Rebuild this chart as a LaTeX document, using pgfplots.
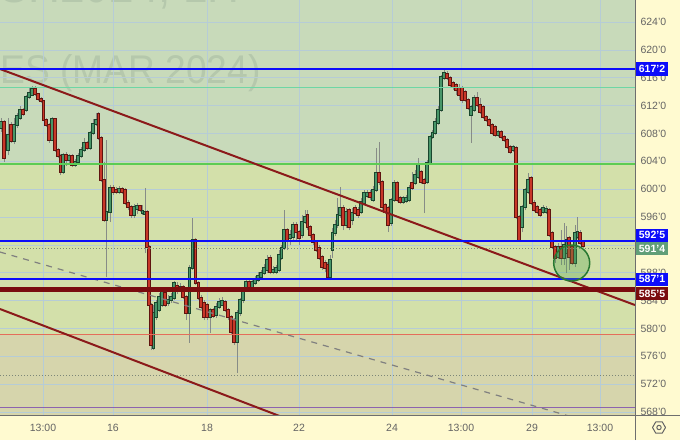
\documentclass[border=0pt]{standalone}
\usepackage{fontspec}
\setmainfont{Liberation Sans}
\usepackage{graphicx}
\usepackage{pgfplots}
\usepackage{pgfplotstable}
\pgfplotsset{compat=1.18}

\definecolor{bgtop}{RGB}{200,218,186}
\definecolor{bgmid}{RGB}{211,224,170}
\definecolor{bglow}{RGB}{214,213,172}
\definecolor{panel}{RGB}{255,250,208}
\definecolor{gridc}{RGB}{182,204,214}
\definecolor{wm}{RGB}{181,200,172}
\definecolor{ticktext}{RGB}{100,100,100}
\definecolor{bordc}{RGB}{110,110,110}
\definecolor{trend}{RGB}{139,26,26}
\definecolor{lvl}{RGB}{122,12,14}
\definecolor{blueline}{RGB}{12,12,250}
\definecolor{mint}{RGB}{110,214,165}
\definecolor{lgreen}{RGB}{92,204,84}
\definecolor{salmon}{RGB}{228,110,90}
\definecolor{purp}{RGB}{140,100,175}
\definecolor{dotc}{RGB}{125,135,120}
\definecolor{lastc}{RGB}{96,158,120}
\definecolor{upc}{RGB}{72,150,105}
\definecolor{upo}{RGB}{25,70,45}
\definecolor{dnc}{RGB}{200,55,40}
\definecolor{dno}{RGB}{95,20,15}
\definecolor{wickc}{RGB}{135,140,135}
\definecolor{circf}{RGB}{76,160,80}
\definecolor{circd}{RGB}{40,120,50}

% hourly candles, rising ones
\pgfplotstableread{
x o h l c
1 608.78 610.21 608.20 609.64
8 605.62 610.21 604.90 607.77
14 606.91 610.21 606.48 609.21
17 609.21 610.93 608.78 610.50
20 610.21 611.94 609.93 611.36
26 611.36 613.52 611.08 613.23
29 613.23 614.52 612.94 613.81
32 613.52 614.81 613.37 614.38
52 607.06 610.36 606.91 610.07
63 602.46 605.19 602.17 604.90
69 604.18 605.05 603.75 604.76
75 603.47 604.33 603.18 603.90
78 603.90 605.19 603.61 604.76
81 604.76 606.05 604.47 605.62
84 605.62 607.34 605.33 606.63
90 605.91 608.35 605.62 608.06
93 608.06 610.07 607.77 609.35
96 609.35 610.93 609.07 609.93
106.5 595.57 607.06 587.38 596.72
110 596.72 600.59 595.28 600.16
119 599.59 600.45 599.30 600.02
134 596.29 597.87 595.85 597.43
137 597.15 598.01 596.43 597.58
142.5 596.57 597.72 596.29 596.86
145 596.43 600.16 590.83 596.72
153.5 577.19 583.36 576.90 582.21
156 581.64 584.08 581.21 583.65
159 582.64 585.09 582.36 584.51
162 583.36 585.52 583.07 585.23
168 583.65 584.80 583.22 584.08
171 584.08 585.09 583.65 584.51
174 584.37 586.81 584.08 586.52
180 585.52 586.52 585.23 585.95
189.5 582.21 589.11 577.91 588.68
192.5 588.68 595.85 588.39 592.70
210 581.64 582.93 579.34 582.64
216 581.93 583.65 581.49 583.07
219 583.07 584.37 582.79 583.79
222 583.36 584.51 583.22 583.94
237 578.05 582.64 573.60 582.21
240 582.21 584.37 581.78 584.08
243 584.08 585.95 583.65 585.52
246 585.52 587.10 585.23 586.67
252 585.95 587.24 585.66 586.67
255 586.52 587.53 586.23 586.95
258 586.95 588.10 586.67 587.53
261 587.38 588.39 587.10 587.96
264 587.96 589.25 587.67 588.68
267 588.39 590.54 587.96 589.82
273 588.10 588.96 587.81 588.39
276 588.10 589.11 587.81 588.68
279 588.39 591.26 588.10 590.54
281.5 590.11 591.98 589.82 591.55
284 591.55 597.00 591.26 594.13
290 592.98 594.13 591.98 593.41
293 593.13 595.28 592.70 594.85
302 593.41 596.29 592.98 595.28
305 595.28 597.00 594.99 596.00
330 587.38 590.54 586.95 589.82
332.5 591.26 594.42 590.11 593.70
335 593.70 595.57 593.27 594.85
337.5 594.85 598.73 594.42 596.29
340 596.29 600.31 595.85 597.29
346 594.85 597.29 594.42 596.72
352 595.57 597.29 594.85 596.57
361 596.72 598.73 596.43 598.15
364 598.01 599.88 597.72 599.45
367 599.01 599.88 598.73 599.45
373 598.44 600.45 598.15 599.88
376 599.88 605.91 599.59 602.32
391 595.14 598.73 594.71 598.44
394 598.44 601.31 598.15 600.88
403 598.15 599.01 597.87 598.73
406 598.30 599.16 598.01 598.73
409 598.44 600.59 598.15 600.16
415 600.88 602.75 600.59 602.03
418 601.74 604.47 601.46 603.47
427 601.02 604.18 600.74 603.75
430 603.75 607.77 603.47 607.49
432.5 607.49 608.49 607.20 608.06
435 608.06 610.21 607.77 609.64
438 609.50 611.94 609.21 611.36
441 611.36 616.39 611.08 616.10
444 615.96 617.11 615.67 616.68
471 610.65 612.08 606.63 611.79
474 611.36 613.52 611.08 613.09
498 607.77 608.49 607.49 608.20
513 605.62 606.34 605.33 606.05
522 594.56 597.72 593.84 597.43
525 597.43 600.16 597.00 599.88
528 599.59 602.32 599.30 601.31
543 596.72 597.72 596.43 597.29
546 596.72 597.58 596.43 597.15
558 590.25 592.27 589.97 591.69
564 590.11 595.14 589.11 591.98
566.5 590.83 594.71 587.96 592.70
575 589.39 594.85 588.82 593.70
577.5 593.13 596.00 592.84 593.84
}\upc

% hourly candles, falling ones
\pgfplotstableread{
x o h l c
4 609.64 609.93 603.90 604.47
11 609.21 609.64 606.63 606.91
23 611.36 611.65 610.50 610.79
35 614.38 614.81 613.37 613.66
38 613.66 613.81 612.66 612.94
41 612.94 613.23 612.37 612.66
43.5 612.66 612.80 609.78 609.93
46 609.93 610.21 608.92 609.21
49 609.21 609.50 606.63 607.06
55 610.07 610.21 605.33 605.62
58 605.62 605.91 604.47 604.76
60.5 604.76 605.05 602.03 602.46
66 604.90 605.33 603.32 604.18
72 604.76 605.05 603.18 603.47
87 606.63 606.91 605.62 605.91
98.5 610.79 611.08 607.06 607.34
101 607.34 607.63 601.02 601.31
104 601.31 603.90 595.28 595.57
113 600.16 600.59 599.16 599.59
116 599.88 600.31 599.30 599.59
122 600.02 600.31 599.30 599.59
125 599.88 600.16 597.72 598.01
128 598.01 598.44 597.00 597.43
131 597.43 597.72 595.85 596.29
140 597.58 597.72 596.72 597.00
147 596.72 597.00 591.26 591.69
149 591.69 591.98 583.07 583.36
151 583.36 583.65 576.90 577.62
165 585.09 585.37 583.07 583.36
177 586.09 586.67 584.94 585.37
183 585.95 586.23 584.22 584.51
186 584.51 584.80 581.21 582.21
195.5 592.70 592.98 586.23 586.52
198.5 586.52 586.81 584.08 584.37
201 584.37 584.80 582.79 583.07
204 583.65 584.08 581.21 581.64
207 583.36 583.65 581.21 581.64
213 582.64 582.93 581.49 581.78
225 583.79 584.08 582.36 582.64
228 582.64 582.93 581.21 581.64
231 581.64 581.93 579.05 579.48
234 581.21 581.49 577.62 578.05
249 586.67 587.10 585.52 585.95
270 590.11 590.54 587.81 588.10
287 594.13 594.42 591.26 592.70
296 594.85 595.28 592.70 593.84
299 593.84 594.13 591.98 592.98
307.5 596.29 597.00 594.13 594.56
310 594.56 594.85 592.98 593.41
313 593.41 593.70 591.98 592.41
316 592.41 592.70 590.97 591.26
319 591.55 591.98 589.82 590.11
322 590.25 590.54 588.39 588.82
325 589.39 589.82 588.10 588.68
327.5 589.11 589.54 587.10 587.38
343 597.29 597.72 594.13 594.85
349 597.00 597.29 594.13 594.56
355 597.29 597.72 596.29 596.57
358 597.00 597.43 595.85 596.29
370 599.45 599.88 598.44 598.87
379 602.32 606.77 600.59 601.02
382 601.02 601.31 597.00 597.43
385 597.72 598.01 596.43 596.72
388 597.29 597.58 593.84 594.85
397 600.88 601.17 598.15 598.44
400 598.73 599.01 597.87 598.15
412 600.88 602.46 599.88 600.16
421 602.46 602.75 600.74 601.02
424 601.31 601.60 596.57 600.88
447 616.53 616.96 615.67 615.96
450 615.96 616.25 614.67 614.95
453 615.24 615.53 614.24 614.67
456 614.95 615.24 613.52 614.24
459 614.52 615.10 612.80 613.52
462 614.52 614.81 612.37 612.80
465 613.95 614.24 612.51 612.80
468 612.80 613.09 611.36 611.65
477 613.09 613.95 611.79 612.08
480 612.08 613.09 610.79 611.08
483 611.79 612.08 610.07 610.36
486 610.36 610.65 609.64 609.93
489 609.93 610.21 608.92 609.21
492 609.21 609.50 607.77 608.06
495 608.92 609.21 607.49 607.77
501 608.20 608.49 607.20 607.49
504 607.49 607.77 606.77 607.06
507 607.06 607.34 605.76 606.05
510 606.05 606.34 605.05 605.33
516 605.91 606.19 595.71 596.00
519 596.00 596.29 592.41 592.70
531 601.60 601.89 597.72 598.01
534 598.01 598.44 596.72 597.00
537 597.43 597.72 596.43 596.72
540 597.00 597.29 596.00 596.29
549 597.00 597.29 593.13 593.41
552 593.70 593.99 591.40 591.69
555 591.69 591.98 589.39 590.11
561 591.69 594.13 589.11 590.11
569 592.98 593.27 588.39 590.25
572 591.69 591.98 589.11 589.39
580 593.70 594.13 591.98 592.27
583 592.41 592.70 591.55 591.84
}\dnc

\begin{document}
\begin{tikzpicture}
\begin{scope}
\clip (0pt,-25pt) rectangle (680pt,415pt);
% panels and zones
\fill[panel] (0pt,-25pt) rectangle (680pt,415pt);
\fill[bglow] (0pt,0pt) rectangle (635pt,80.3pt);
\fill[bgmid] (0pt,80.3pt) rectangle (635pt,251.3pt);
\fill[bgtop] (0pt,251.3pt) rectangle (635pt,415pt);
% watermark
\node[overlay, anchor=base east, text=wm, inner sep=0pt, font=\fontsize{40}{40}\selectfont]
  at (261pt,332pt) {\scalebox{0.93}[1]{SOYBEAN FUTURES (MAR 2024)}};
\node[overlay, anchor=base east, text=wm, inner sep=0pt, font=\fontsize{52}{52}\selectfont]
  at (240pt,412pt) {\scalebox{0.85}[1]{ZSH2024, 1H}};

\begin{axis}[
    at={(0pt,0pt)}, anchor=south west,
    width=635pt, height=415pt, scale only axis,
    xmin=0, xmax=635, ymin=567.57, ymax=627.16,
    axis line style={draw=none},
    major tick length=0pt,
    xtick={43,113,207,299,392,461,532,600},
    xticklabels={13:00,16,18,22,24,13:00,29,13:00},
    ytick={568,572,...,624},
    yticklabels={568'0,572'0,576'0,580'0,584'0,588'0,592'0,596'0,600'0,604'0,608'0,612'0,616'0,620'0,624'0},
    yticklabel pos=right,
    grid=major,
    major grid style={draw=gridc, line width=0.7pt},
    tick label style={font=\fontsize{10.5}{12}\selectfont, text=ticktext},
    xticklabel style={yshift=-6pt},
    yticklabel style={anchor=west, xshift=2pt},
]
% wicks
\addplot[draw=none, mark=none, forget plot,
  error bars/.cd, y dir=plus, y explicit, error mark=none,
  error bar style={draw=wickc, line width=1pt}]
  table[x=x, y=l, y error plus expr=\thisrow{h}-\thisrow{l}] {\upc};
\addplot[draw=none, mark=none, forget plot,
  error bars/.cd, y dir=plus, y explicit, error mark=none,
  error bar style={draw=wickc, line width=1pt}]
  table[x=x, y=l, y error plus expr=\thisrow{h}-\thisrow{l}] {\dnc};
% bodies
\addplot[draw=none, mark=none, forget plot,
  error bars/.cd, y dir=plus, y explicit, error mark=none,
  error bar style={draw=upo, line width=3.2pt}]
  table[x=x, y expr=\thisrow{o}-0.09, y error plus expr=\thisrow{c}-\thisrow{o}+0.18] {\upc};
\addplot[draw=none, mark=none, forget plot,
  error bars/.cd, y dir=plus, y explicit, error mark=none,
  error bar style={draw=upc, line width=1.8pt}]
  table[x=x, y=o, y error plus expr=\thisrow{c}-\thisrow{o}] {\upc};
\addplot[draw=none, mark=none, forget plot,
  error bars/.cd, y dir=plus, y explicit, error mark=none,
  error bar style={draw=dno, line width=3.2pt}]
  table[x=x, y expr=\thisrow{c}-0.09, y error plus expr=\thisrow{o}-\thisrow{c}+0.18] {\dnc};
\addplot[draw=none, mark=none, forget plot,
  error bars/.cd, y dir=plus, y explicit, error mark=none,
  error bar style={draw=dnc, line width=1.8pt}]
  table[x=x, y=c, y error plus expr=\thisrow{o}-\thisrow{c}] {\dnc};

% levels
\addplot[mint, line width=1.5pt] coordinates {(0,614.6)(635,614.6)};
\addplot[lgreen, line width=1.8pt] coordinates {(0,603.65)(635,603.65)};
\addplot[salmon, line width=1.5pt] coordinates {(0,579.1)(635,579.1)};
\addplot[purp, line width=1pt] coordinates {(0,568.7)(635,568.7)};
\addplot[dotc, line width=1pt, dash pattern=on 1pt off 2pt] coordinates {(0,573.3)(635,573.3)};
\addplot[dotc, line width=1pt, dash pattern=on 1pt off 2pt] coordinates {(0,591.5)(635,591.5)};
\addplot[gray, line width=1.2pt, dash pattern=on 6pt off 6pt] coordinates {(0,590.97)(600,566.14)};
\addplot[trend, line width=2pt] coordinates {(0,617.25)(635,583.36)};
\addplot[trend, line width=2pt] coordinates {(0,582.79)(300,566.3)};
\addplot[blueline, line width=2pt] coordinates {(0,617.25)(635,617.25)};
\addplot[blueline, line width=2pt] coordinates {(0,592.625)(635,592.625)};
\addplot[blueline, line width=2pt] coordinates {(0,587.125)(635,587.125)};
\addplot[lvl, line width=4.5pt] coordinates {(0,585.625)(635,585.625)};
\filldraw[fill=circf, fill opacity=0.3, draw=circd, line width=1.5pt]
  (axis cs:571.7,589.39) circle[radius=18pt];
\end{axis}

% borders
\draw[bordc, line width=0.8pt] (635pt,-25pt) -- (635pt,415pt);
\draw[bordc, line width=0.8pt] (0pt,0pt) -- (680pt,0pt);
% price labels
\tikzset{pl/.style={text=white, inner sep=0pt, minimum width=32pt, minimum height=13pt,
  font=\fontsize{10.5}{12}\selectfont\bfseries}}
\node[pl, fill=blueline] at (652pt,346pt) {617'2};
\node[pl, fill=blueline] at (652pt,179.7pt) {592'5};
\node[pl, fill=lastc] at (652pt,166.5pt) {591'4};
\node[pl, fill=blueline] at (652pt,135.8pt) {587'1};
\node[pl, fill=lvl] at (652pt,121.6pt) {585'5};
% settings icon
\draw[ticktext, line width=1pt, line join=round] (659pt,-12.5pt) +(0:6.5pt) -- +(60:6.5pt) -- +(120:6.5pt)
  -- +(180:6.5pt) -- +(240:6.5pt) -- +(300:6.5pt) -- cycle;
\draw[ticktext, line width=1pt] (659pt,-12.5pt) circle[radius=2.2pt];
\end{scope}
\end{tikzpicture}
\end{document}
